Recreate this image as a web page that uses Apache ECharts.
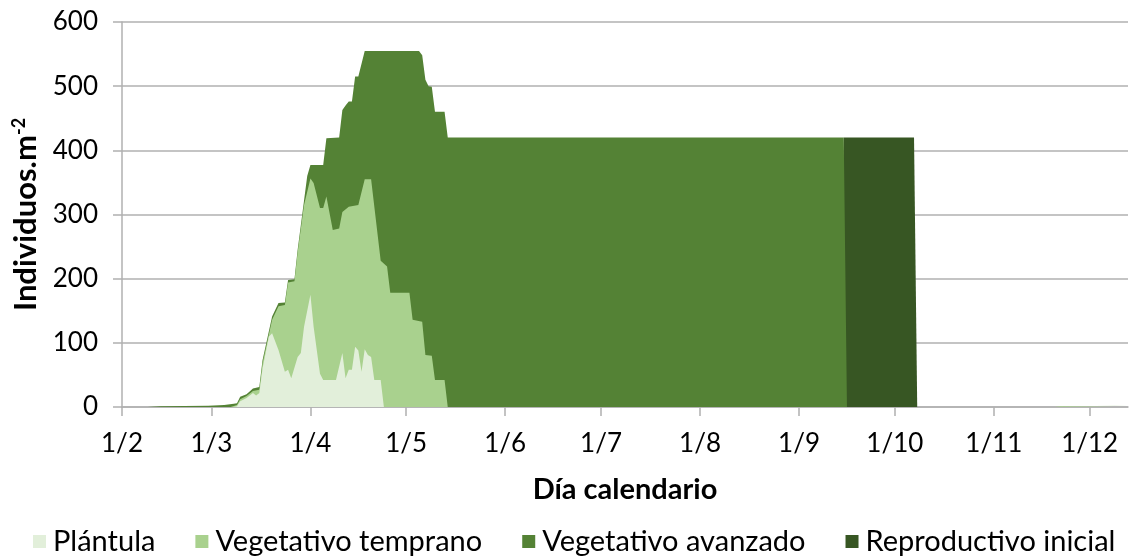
<!DOCTYPE html>
<html>
<head>
<meta charset="utf-8">
<script src="https://cdn.jsdelivr.net/npm/echarts@6/dist/echarts.min.js"></script>
<style>html,body{margin:0;padding:0;background:#fff;}#c{width:1132px;height:557px;}</style>
</head>
<body>
<div id="c"></div>
<script>
// Tick labels (month starts) and the calendar categories (day/month) they sit on
const monthLabels = ['1/2','1/3','1/4','1/5','1/6','1/7','1/8','1/9','1/10','1/11','1/12'];
const monthLengths = [31,28,31,30,31,30,31,31,30,31,30,31];
const firstMonth = 2, lastMonth = 12, lastDay = 13;
const days = [];
for (let m = firstMonth; m <= lastMonth; m++) {
  const n = (m === lastMonth) ? lastDay : monthLengths[m - 1];
  for (let d = 1; d <= n; d++) days.push(d + '/' + m);
}

const seriesNames = ['Plántula','Vegetativo temprano','Vegetativo avanzado','Reproductivo inicial'];

// Upper edge of each stage area (individuos per m2), [day, value]
const plantula = [
  ['8/3',0],['9/3',1],['10/3',9],['12/3',14],['14/3',22],['15/3',18],['16/3',22],['17/3',60],['18/3',85],
  ['19/3',110],['20/3',115],['22/3',89],['24/3',55],['25/3',58],['26/3',45],['28/3',78],['29/3',84],
  ['30/3',125],['1/4',175],['2/4',125],['4/4',52],['5/4',42],['9/4',42],['11/4',84],['12/4',45],
  ['13/4',58],['14/4',58],['15/4',94],['16/4',88],['17/4',55],['18/4',90],['19/4',81],['20/4',78],
  ['21/4',42],['23/4',42],['24/4',0]
];
const vegTemprano = [
  ['7/3',0],['9/3',3],['10/3',12],['12/3',17],['14/3',25],['16/3',27],['17/3',68],['20/3',136],
  ['22/3',157],['24/3',159],['25/3',194],['27/3',196],['28/3',241],['30/3',315],['1/4',356],
  ['2/4',349],['4/4',310],['5/4',310],['6/4',328],['8/4',276],['10/4',278],['11/4',304],['13/4',312],
  ['16/4',315],['18/4',355],['20/4',355],['23/4',228],['25/4',219],['26/4',178],['2/5',178],
  ['3/5',136],['6/5',133],['7/5',81],['9/5',80],['10/5',42],['13/5',42],['14/5',0],
  ['20/11',0],['22/11',1],['13/12',2]
];
const vegAvanzado = [
  ['9/2',0],['13/2',1],['28/2',2],['5/3',3],['8/3',5],['9/3',6],['10/3',16],['12/3',20],['14/3',29],
  ['16/3',31],['17/3',73],['20/3',141],['22/3',162],['24/3',163],['25/3',198],['27/3',199],
  ['28/3',245],['30/3',322],['31/3',360],['1/4',377],['5/4',377],['6/4',419],['10/4',420],
  ['11/4',463],['12/4',470],['13/4',476],['14/4',476],['15/4',515],['16/4',515],['18/4',555],
  ['5/5',555],['6/5',548],['7/5',510],['8/5',500],['9/5',499],['10/5',460],['13/5',460],
  ['14/5',420],['15/9',420],['16/9',0]
];
const reproductivo = [
  ['14/9',0],['15/9',420],['7/10',420],['8/10',0]
];

const colors = ['#E2EFDA','#A9D18E','#548235','#375623'];
const yTicks = {min:0, max:600, interval:100};

const font = 'Lato, "Open Sans", sans-serif';
const gridColor = '#b0b0b0';

function areaSeries(name, data, color) {
  return {
    name: name, type: 'line', data: data, showSymbol: false, symbol: 'none',
    lineStyle: {width: 0, color: color}, itemStyle: {color: color},
    areaStyle: {color: color, opacity: 1}, emphasis: {disabled: true}, animation: false
  };
}

const chart = echarts.init(document.getElementById('c'), null, {renderer: 'canvas'});
const isMonthStart = (i, v) => monthLabels.indexOf(v) >= 0;
chart.setOption({
  animation: false,
  color: colors,
  grid: {left: 122, right: 4, top: 22, bottom: 150},
  legend: {
    data: seriesNames, top: 527, left: 33, width: 1099, padding: 0, icon: 'rect', itemWidth: 13, itemHeight: 13,
    itemGap: 40, textStyle: {fontFamily: font, fontSize: 29, color: '#000', padding: [0,0,0,2]}
  },
  xAxis: {
    type: 'category', data: days, boundaryGap: false,
    name: 'Día calendario', nameLocation: 'middle', nameGap: 68,
    nameTextStyle: {fontFamily: font, fontSize: 29, fontWeight: 'bold', color: '#000'},
    axisLine: {lineStyle: {color: gridColor, width: 1.5}},
    axisTick: {show: true, interval: isMonthStart, length: 9, lineStyle: {color: gridColor, width: 1.5}},
    axisLabel: {interval: isMonthStart, fontFamily: font, fontSize: 26, color: '#000', margin: 24},
    splitLine: {show: false}
  },
  yAxis: {
    type: 'value', min: yTicks.min, max: yTicks.max, interval: yTicks.interval,
    name: '{a|Individuos.m}{s|-2}', nameLocation: 'middle', nameGap: 78,
    nameTextStyle: {
      rich: {
        a: {fontFamily: font, fontSize: 31, fontWeight: 'bold', color: '#000'},
        s: {fontFamily: font, fontSize: 18, fontWeight: 'bold', color: '#000', verticalAlign: 'top', padding: [0,0,14,0]}
      }
    },
    axisLine: {show: true, lineStyle: {color: gridColor, width: 1.5}},
    axisTick: {show: true, length: 9, lineStyle: {color: gridColor, width: 1.5}},
    axisLabel: {fontFamily: font, fontSize: 26, color: '#000', margin: 24},
    splitLine: {lineStyle: {color: gridColor, width: 1.5}}
  },
  series: [
    areaSeries(seriesNames[3], reproductivo, colors[3]),
    areaSeries(seriesNames[2], vegAvanzado, colors[2]),
    areaSeries(seriesNames[1], vegTemprano, colors[1]),
    areaSeries(seriesNames[0], plantula, colors[0])
  ]
});
</script>
</body>
</html>
